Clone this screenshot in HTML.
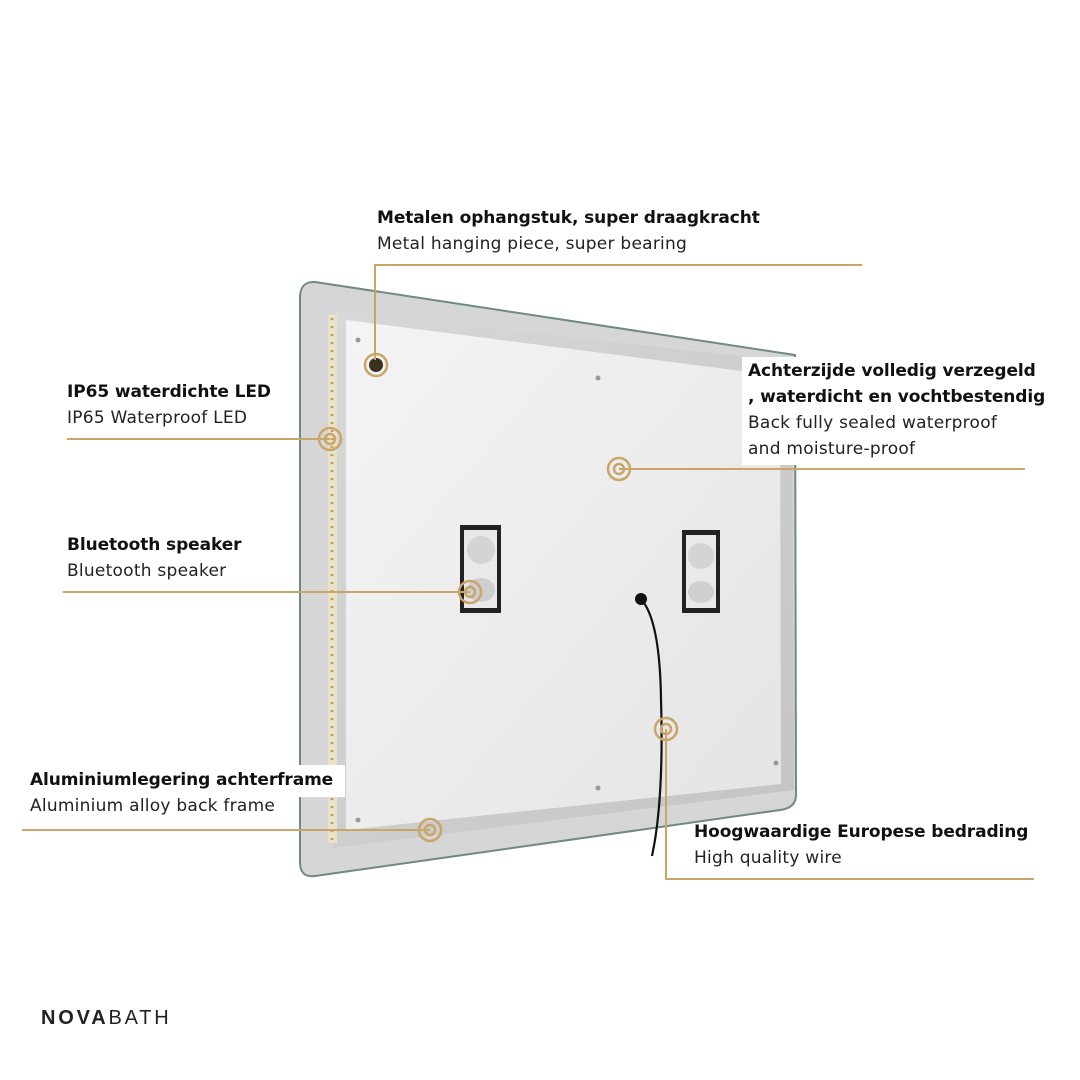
<!DOCTYPE html>
<html><head><meta charset="utf-8"><style>
body{margin:0;background:#fff}
.w{position:relative;width:1080px;height:1080px;overflow:hidden;font-family:"DejaVu Sans","Liberation Sans",sans-serif;color:#111}
svg{position:absolute;left:0;top:0}
.t{position:absolute;font-size:17px;line-height:26px;white-space:nowrap}
.t b{font-weight:bold;display:block;letter-spacing:-0.1px}
.t span{display:block;color:#222;letter-spacing:0.25px}
</style></head><body><div class="w">
<svg width="1080" height="1080">
<defs>
<linearGradient id="fr" x1="0" y1="0" x2="1" y2="1"><stop offset="0" stop-color="#d8d8d8"/><stop offset="1" stop-color="#c4c4c4"/></linearGradient>
<linearGradient id="pn" x1="0" y1="0" x2="1" y2="1"><stop offset="0" stop-color="#f4f4f4"/><stop offset="1" stop-color="#e4e4e4"/></linearGradient>
</defs>
<path d="M315,282 L795,355 L796,795 Q796,808 780,810 L315,876 Q300,878 300,862 L300,298 Q300,281 315,282Z" fill="#d6d6d6" stroke="#6f8a80" stroke-width="2"/>
<path d="M332,310 L792,362 L794,790 L333,848Z" fill="url(#fr)"/>
<rect x="328" y="315" width="9" height="528" fill="#e8e2c8"/>
<line x1="332" y1="318" x2="332" y2="840" stroke="#c8a060" stroke-width="3" stroke-dasharray="2 6"/>
<path d="M346,320 L780,376 L781,784 L346,830Z" fill="url(#pn)"/>
<rect x="460" y="525" width="41" height="88" fill="#222"/><rect x="464" y="530" width="33" height="78" fill="#e9e9e9"/>
<circle cx="481" cy="550" r="14" fill="#d4d4d4"/><ellipse cx="481" cy="590" rx="14" ry="12" fill="#cfcfcf"/>
<rect x="682" y="530" width="38" height="83" fill="#222"/><rect x="686" y="535" width="30" height="73" fill="#e9e9e9"/>
<circle cx="701" cy="556" r="13" fill="#d4d4d4"/><ellipse cx="701" cy="592" rx="13" ry="11" fill="#cfcfcf"/>
<circle cx="376" cy="365" r="7" fill="#3a3020"/>
<g fill="#999"><circle cx="358" cy="340" r="2.5"/><circle cx="598" cy="378" r="2.5"/><circle cx="776" cy="763" r="2.5"/><circle cx="598" cy="788" r="2.5"/><circle cx="358" cy="820" r="2.5"/></g>
<circle cx="641" cy="599" r="6" fill="#111"/>
<path d="M641,599 Q660,620 661,700 Q664,800 652,856" fill="none" stroke="#111" stroke-width="2.2"/>
<g fill="none" stroke="#c9a56a" stroke-width="2">
<path d="M375,360 L375,265 L862,265"/>
<path d="M67,439 L330,439"/>
<path d="M619,469 L1025,469"/>
<path d="M63,592 L470,592"/>
<path d="M22,830 L430,830"/>
<path d="M666,729 L666,879 L1034,879"/>
</g>
<g fill="none" stroke="#c9a56a" stroke-width="2.5">
<circle cx="376" cy="365" r="11"/>
<circle cx="330" cy="439" r="11"/><circle cx="330" cy="439" r="5"/>
<circle cx="619" cy="469" r="11"/><circle cx="619" cy="469" r="5"/>
<circle cx="470" cy="592" r="11"/><circle cx="470" cy="592" r="5"/>
<circle cx="430" cy="830" r="11"/><circle cx="430" cy="830" r="5"/>
<circle cx="666" cy="729" r="11"/><circle cx="666" cy="729" r="5"/>
</g>
<rect x="742" y="357" width="310" height="108" fill="#fff"/>
<rect x="25" y="765" width="320" height="32" fill="#fff"/>
</svg>
<div class="t" style="left:377px;top:205px"><b>Metalen ophangstuk, super draagkracht</b><span>Metal hanging piece, super bearing</span></div>
<div class="t" style="left:67px;top:379px"><b>IP65 waterdichte LED</b><span>IP65 Waterproof LED</span></div>
<div class="t" style="left:748px;top:358px"><b>Achterzijde volledig verzegeld</b><b>, waterdicht en vochtbestendig</b><span>Back fully sealed waterproof</span><span>and moisture-proof</span></div>
<div class="t" style="left:67px;top:532px"><b>Bluetooth speaker</b><span>Bluetooth speaker</span></div>
<div class="t" style="left:30px;top:767px"><b>Aluminiumlegering achterframe</b><span>Aluminium alloy back frame</span></div>
<div class="t" style="left:694px;top:819px"><b>Hoogwaardige Europese bedrading</b><span>High quality wire</span></div>
<div style="position:absolute;left:41px;top:1007px;font-family:'Liberation Sans',sans-serif;font-size:20px;letter-spacing:2.8px;color:#222"><b>NOVA</b>BATH</div>
</div></body></html>
